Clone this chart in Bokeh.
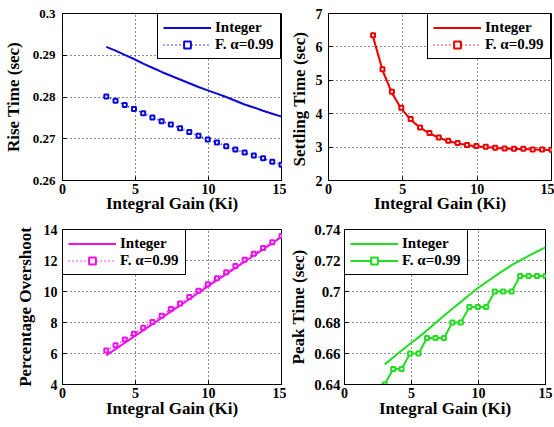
from bokeh.plotting import figure
from bokeh.layouts import column, row
from bokeh.models import Range1d, FixedTicker
from bokeh.embed import file_html
from bokeh.resources import INLINE

# ---- data ----
ki = [3.0, 3.632, 4.263, 4.895, 5.526, 6.158, 6.789, 7.421, 8.053, 8.684,
      9.316, 9.947, 10.579, 11.211, 11.842, 12.474, 13.105, 13.737, 14.368, 15.0]

rise_int = [0.2920, 0.2911, 0.2901, 0.2891, 0.2880, 0.2870, 0.2860, 0.2851, 0.2842, 0.2833,
            0.2824, 0.2816, 0.2808, 0.2800, 0.2791, 0.2782, 0.2775, 0.2767, 0.2760, 0.2753]
rise_frac = [0.2801, 0.2791, 0.2781, 0.2771, 0.2761, 0.2751, 0.2742, 0.2734, 0.2725, 0.2716,
             0.2707, 0.2698, 0.2691, 0.2682, 0.2674, 0.2667, 0.2660, 0.2653, 0.2645, 0.2638]

settle_int = [6.30, 5.30, 4.62, 4.15, 3.82, 3.58, 3.41, 3.28, 3.18, 3.11,
              3.06, 3.02, 3.00, 2.97, 2.96, 2.94, 2.94, 2.93, 2.92, 2.91]
settle_frac = [6.35, 5.33, 4.66, 4.18, 3.84, 3.59, 3.42, 3.29, 3.19, 3.12,
               3.06, 3.03, 3.01, 2.98, 2.96, 2.95, 2.95, 2.93, 2.93, 2.92]

over_int = [5.88, 6.28, 6.69, 7.09, 7.49, 7.89, 8.30, 8.70, 9.10, 9.50,
            9.92, 10.33, 10.73, 11.12, 11.52, 11.92, 12.32, 12.72, 13.12, 13.52]
over_frac = [6.20, 6.53, 6.90, 7.28, 7.66, 8.04, 8.44, 8.87, 9.23, 9.65,
             10.05, 10.46, 10.86, 11.24, 11.64, 12.05, 12.43, 12.81, 13.18, 13.58]

peak_int = [0.6530, 0.6574, 0.6619, 0.6663, 0.6704, 0.6750, 0.6797, 0.6844, 0.6889, 0.6933,
            0.6978, 0.7022, 0.7060, 0.7098, 0.7135, 0.7170, 0.7200, 0.7230, 0.7258, 0.7285]
peak_frac = [0.64, 0.65, 0.65, 0.66, 0.66, 0.67, 0.67, 0.67, 0.68, 0.68,
             0.69, 0.69, 0.69, 0.70, 0.70, 0.70, 0.71, 0.71, 0.71, 0.71]

x_ticks = [0, 5, 10, 15]
x_tick_labels = ["0", "5", "10", "15"]

rise_ticks = [0.26, 0.27, 0.28, 0.29, 0.30]
rise_tick_labels = ["0.26", "0.27", "0.28", "0.29", "0.3"]
settle_ticks = [2, 3, 4, 5, 6, 7]
settle_tick_labels = ["2", "3", "4", "5", "6", "7"]
over_ticks = [4, 6, 8, 10, 12, 14]
over_tick_labels = ["4", "6", "8", "10", "12", "14"]
peak_ticks = [0.64, 0.66, 0.68, 0.70, 0.72, 0.74]
peak_tick_labels = ["0.64", "0.66", "0.68", "0.7", "0.72", "0.74"]

x_label = "Integral Gain (Ki)"
label_int = "Integer"
label_frac = "F. \u03b1=0.99"

FONT = "Liberation Serif"


def make_fig(ylabel, yticks, ylabels, width, height, bl, bt, bb, br,
             ytick_size, ylab_stand, ytick_stand, xlab_stand):
    p = figure(width=width, height=height, output_backend="svg", toolbar_location=None,
               x_range=Range1d(0, 15), y_range=Range1d(yticks[0], yticks[-1]),
               min_border_left=bl, min_border_top=bt, min_border_bottom=bb,
               min_border_right=br)
    p.background_fill_color = "white"
    p.border_fill_color = "white"
    p.outline_line_color = "black"
    p.outline_line_alpha = 1.0
    p.outline_line_width = 1

    p.xaxis.ticker = FixedTicker(ticks=x_ticks)
    p.xaxis.major_label_overrides = {t: l for t, l in zip(x_ticks, x_tick_labels)}
    p.yaxis.ticker = FixedTicker(ticks=yticks)
    p.yaxis.major_label_overrides = {t: l for t, l in zip(yticks, ylabels)}

    p.axis.axis_line_color = "black"
    p.axis.major_tick_line_color = "black"
    p.axis.major_tick_in = 4
    p.axis.major_tick_out = 0
    p.axis.minor_tick_line_color = None
    p.axis.major_label_text_font = FONT
    p.axis.major_label_text_font_style = "bold"
    p.axis.major_label_text_color = "black"
    p.axis.axis_label_text_font = FONT
    p.axis.axis_label_text_font_style = "bold"
    p.axis.axis_label_text_font_size = "17px"
    p.axis.axis_label_text_color = "black"

    p.xaxis.major_label_text_font_size = "14px"
    p.yaxis.major_label_text_font_size = ytick_size
    p.xaxis.axis_label = x_label
    p.xaxis.major_label_standoff = 3
    p.xaxis.axis_label_standoff = xlab_stand
    p.yaxis.axis_label = ylabel
    p.yaxis.major_label_standoff = ytick_stand
    p.yaxis.axis_label_standoff = ylab_stand

    p.grid.grid_line_color = "black"
    p.grid.grid_line_alpha = 0.9
    p.grid.grid_line_dash = "1 3"
    p.grid.grid_line_width = 1
    p.xgrid.ticker = FixedTicker(ticks=x_ticks)
    p.ygrid.ticker = FixedTicker(ticks=yticks)
    return p


def style_legend(p, loc):
    p.legend.location = loc
    p.legend.margin = 0
    p.legend.padding = 5
    p.legend.spacing = 0
    p.legend.border_line_color = "black"
    p.legend.border_line_width = 1
    p.legend.border_line_alpha = 1
    p.legend.background_fill_color = "white"
    p.legend.background_fill_alpha = 1
    p.legend.glyph_width = 48
    p.legend.glyph_height = 17
    p.legend.label_height = 17
    p.legend.label_width = 60
    p.legend.label_standoff = 4
    p.legend.label_text_font = FONT
    p.legend.label_text_font_style = "bold"
    p.legend.label_text_font_size = "15px"
    p.legend.label_text_color = "black"


MS = 4
MW = 2

# ---- Rise time (top-left) ----
p1 = make_fig("Rise Time (sec)", rise_ticks, rise_tick_labels, 286, 216, 62, 13, 36, 5,
              "13px", 7, 7, -3)
c1 = "#0a0ad8"
p1.line(ki, rise_int, line_color=c1, line_width=2, legend_label=label_int)
p1.line(ki, rise_frac, line_color=c1, line_width=1.5, line_dash="1 3", legend_label=label_frac)
p1.scatter(ki, rise_frac, marker="square", size=MS, line_color=c1, line_width=MW,
           fill_color="white", legend_label=label_frac)
style_legend(p1, "top_right")

# ---- Settling time (top-right) ----
p2 = make_fig("Settling Time  (sec)", settle_ticks, settle_tick_labels, 268, 216, 42, 13, 35, 3,
              "14px", 4, 6, -3)
c2 = "#ee0000"
p2.line(ki, settle_int, line_color=c2, line_width=2, legend_label=label_int)
p2.line(ki, settle_frac, line_color=c2, line_width=1.5, line_dash="1 3", legend_label=label_frac)
p2.scatter(ki, settle_frac, marker="square", size=MS, line_color=c2, line_width=MW,
           fill_color="white", legend_label=label_frac)
style_legend(p2, "top_right")

# ---- Percentage overshoot (bottom-left) ----
p3 = make_fig("Percentage Overshoot", over_ticks, over_tick_labels, 286, 211, 62, 11, 41, 5,
              "14px", 6, 5, -2)
c3 = "#ee10ee"
p3.line(ki, over_int, line_color=c3, line_width=2, legend_label=label_int)
p3.line(ki, over_frac, line_color=c3, line_width=1.5, line_dash="1 3", legend_label=label_frac)
p3.scatter(ki, over_frac, marker="square", size=MS, line_color=c3, line_width=MW,
           fill_color="white", legend_label=label_frac)
style_legend(p3, "top_left")

# ---- Peak time (bottom-right) ----
p4 = make_fig("Peak Time (sec)", peak_ticks, peak_tick_labels, 268, 211, 54, 13, 43, 9,
              "15px", 3, 4, -2)
c4 = "#22dd22"
p4.line(ki, peak_int, line_color=c4, line_width=2, legend_label=label_int)
p4.line(ki, peak_frac, line_color=c4, line_width=2, legend_label=label_frac)
p4.scatter(ki, peak_frac, marker="square", size=MS, line_color=c4, line_width=MW,
           fill_color="white", legend_label=label_frac)
style_legend(p4, "top_left")

layout = column(row(p1, p2, spacing=0), row(p3, p4, spacing=0), spacing=0)

open("out.html", "w").write(file_html(layout, INLINE))
